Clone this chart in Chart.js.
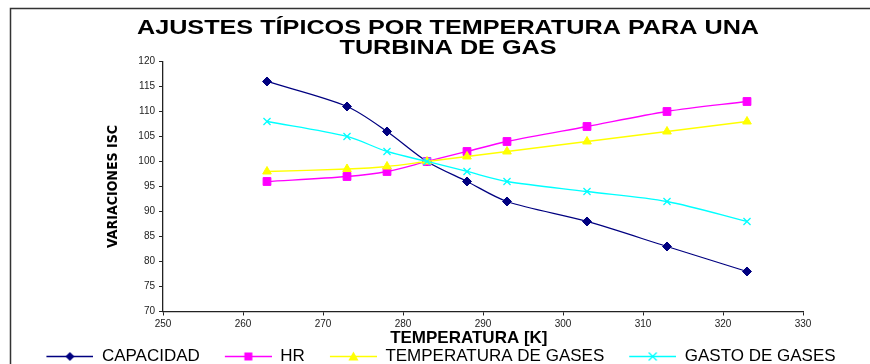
<!DOCTYPE html>
<html>
<head>
<meta charset="utf-8">
<script src="https://cdn.jsdelivr.net/npm/chart.js@4/dist/chart.umd.min.js"></script>
<style>
html,body{margin:0;padding:0;background:#fff;overflow:hidden;}
canvas{display:block;}
</style>
</head>
<body>
<canvas id="c" width="870" height="375"></canvas>
<script>
// ---- data ----
const temperaturas = [263, 273, 278, 283, 288, 293, 303, 313, 323];
const capacidad    = [116, 111, 106, 100, 96, 92, 88, 83, 78];
const hr           = [96, 97, 98, 100, 102, 104, 107, 110, 112];
const tempGases    = [98, 98.5, 99, 100, 101, 102, 104, 106, 108];
const gastoGases   = [108, 105, 102, 100, 98, 96, 94, 92, 88];
const seriesNames  = ['CAPACIDAD', 'HR', 'TEMPERATURA DE GASES', 'GASTO DE GASES'];
const titleLines   = ['AJUSTES TÍPICOS POR TEMPERATURA PARA UNA', 'TURBINA DE GAS'];
const xTitle = 'TEMPERATURA [K]';
const yTitle = 'VARIACIONES ISC';

const FONT = "'Liberation Sans', Arial, sans-serif";
const colors  = ['#000080', '#FF00FF', '#FFFF00', '#00FFFF'];
const styles  = ['rectRot', 'rect', 'triangle', 'crossRot'];
const radii   = [4.5, 5.5, 5, 5];
const values  = [capacidad, hr, tempGases, gastoGases];

function pts(arr){ return temperaturas.map((t,i)=>({x:t, y:arr[i]})); }

// pick a condensed font for the y title if installed
function hasFont(name){
  const g = document.createElement('canvas').getContext('2d');
  const s = 'VARIACIONES ISC mmmwwwiii';
  g.font = 'bold 16px monospace'; const a = g.measureText(s).width;
  g.font = "bold 16px '" + name + "', monospace"; const b = g.measureText(s).width;
  return Math.abs(a-b) > 0.5;
}
let yTitleFont = { family: FONT, size: 14, weight: 'bold', lineHeight: 1.2 };
if (hasFont('Liberation Sans Narrow')) yTitleFont = { family: "'Liberation Sans Narrow', " + FONT, size: 16, weight: 'bold', lineHeight: 1.2 };
else if (hasFont('DejaVu Sans Condensed')) yTitleFont = { family: "'DejaVu Sans Condensed', " + FONT, size: 14, weight: 'bold', lineHeight: 1.2 };

// legend swatch: line + marker
const GAP = 22, LINE = 47, SW_H = 17;
function swatch(i){
  const c = document.createElement('canvas');
  c.width = GAP + LINE; c.height = SW_H;
  const g = c.getContext('2d');
  const cy = SW_H/2, cx = GAP + LINE/2;
  g.strokeStyle = colors[i]; g.fillStyle = colors[i]; g.lineWidth = 1.3;
  g.beginPath(); g.moveTo(GAP, cy); g.lineTo(GAP+LINE, cy); g.stroke();
  g.beginPath();
  if (i===0){ g.moveTo(cx, cy-4.5); g.lineTo(cx+4.5, cy); g.lineTo(cx, cy+4.5); g.lineTo(cx-4.5, cy); g.closePath(); g.fill(); }
  else if (i===1){ g.rect(cx-4, cy-4, 8, 8); g.fill(); }
  else if (i===2){ g.moveTo(cx, cy-5); g.lineTo(cx+5, cy+4); g.lineTo(cx-5, cy+4); g.closePath(); g.fill(); }
  else { g.moveTo(cx-4, cy-4); g.lineTo(cx+4, cy+4); g.moveTo(cx+4, cy-4); g.lineTo(cx-4, cy+4); g.stroke(); }
  return c;
}
const swatches = [0,1,2,3].map(swatch);

const frame = {
  id: 'frame',
  beforeDraw(chart){
    const ctx = chart.ctx;
    ctx.save();
    ctx.fillStyle = '#fff';
    ctx.fillRect(0,0,chart.width,chart.height);
    ctx.strokeStyle = '#333';
    ctx.lineWidth = 1.5;
    ctx.strokeRect(10.5, 8.5, 900, 500);
    ctx.restore();
  }
};

const chart = new Chart(document.getElementById('c'), {
  type: 'scatter',
  data: {
    datasets: seriesNames.map((n,i)=>({
      label: n,
      data: pts(values[i]),
      showLine: true,
      borderColor: colors[i],
      backgroundColor: colors[i],
      borderWidth: 1.3,
      tension: 0.3,
      pointStyle: styles[i],
      pointRadius: radii[i],
      pointBorderWidth: i===3 ? 1.3 : 1,
      pointBorderColor: colors[i],
      pointBackgroundColor: colors[i],
      order: 3 - i
    }))
  },
  options: {
    responsive: false,
    animation: false,
    layout: { padding: { left: 2, right: 12, top: 0, bottom: 0 } },
    plugins: {
      title: {
        display: true,
        text: titleLines,
        color: '#000',
        font: { family: FONT, size: 21, weight: 'bold', lineHeight: 0.952 },
        padding: { top: 18, bottom: 3.5 }
      },
      legend: {
        position: 'bottom',
        labels: {
          usePointStyle: true,
          pointStyleWidth: GAP + LINE,
          padding: 3,
          color: '#000',
          font: { family: FONT, size: 17 },
          generateLabels(chart){
            return chart.data.datasets.map((d,i)=>({
              text: d.label, pointStyle: swatches[i], fillStyle: colors[i],
              strokeStyle: colors[i], lineWidth: 0, hidden: false,
              datasetIndex: i, fontColor: '#000'
            }));
          }
        }
      },
      tooltip: { enabled: false }
    },
    scales: {
      x: {
        type: 'linear', min: 250, max: 330,
        afterFit(s){ s.height = 33.5; },
        ticks: { stepSize: 10, color: '#222', padding: 3, font: { family: FONT, size: 10 } },
        grid: { drawOnChartArea: false, tickLength: 4, color: '#222' },
        border: { color: '#222', width: 1.3 },
        title: {
          display: true, text: xTitle + '      ', color: '#000',
          font: { family: FONT, size: 17, weight: 'bold', lineHeight: 0.8 },
          padding: { top: 0, bottom: 0 }
        }
      },
      y: {
        min: 70, max: 120,
        afterFit(s){ s.width = 161; },
        ticks: { stepSize: 5, color: '#222', padding: 4, font: { family: FONT, size: 10 } },
        grid: { drawOnChartArea: false, tickLength: 4, color: '#222' },
        border: { color: '#222', width: 1.3 },
        title: {
          display: true, text: yTitle, color: '#000',
          font: yTitleFont,
          padding: { top: 111 - yTitleFont.size * 0.6, bottom: 0 }
        }
      },
      yRight: {
        type: 'linear', position: 'right', display: true,
        afterFit(s){ s.width = 55; },
        ticks: { display: false },
        grid: { display: false },
        border: { display: false }
      }
    }
  },
  plugins: [frame]
});

// stretch the title horizontally like the original
const tb = chart.titleBlock;
if (tb) {
  const origDraw = tb.draw.bind(tb);
  tb.draw = function(){
    const ctx = this.ctx;
    const cx = (this.left + this.right) / 2;
    ctx.save();
    ctx.translate(cx + 18, 0);
    ctx.scale(1.2, 1);
    ctx.translate(-cx, 0);
    origDraw();
    ctx.restore();
  };
  chart.draw();
}
</script>
</body>
</html>
